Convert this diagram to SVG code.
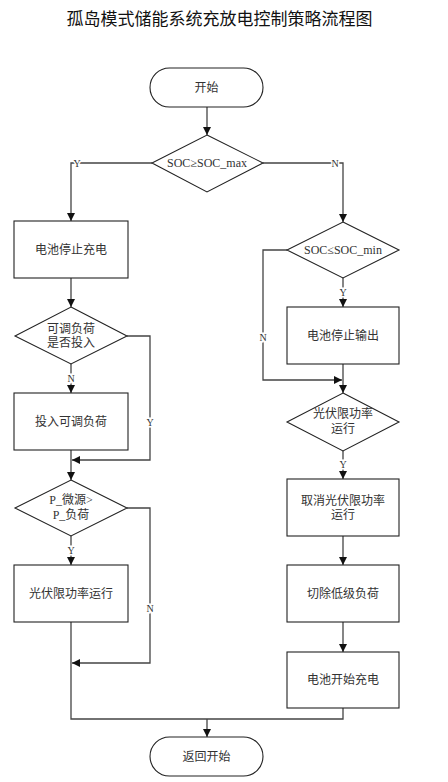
<svg xmlns="http://www.w3.org/2000/svg" width="448" height="782" viewBox="0 0 448 782">
<style>
.shape{fill:#fff;stroke:#222;stroke-width:1.1}
.line{fill:none;stroke:#444;stroke-width:1.3}
.t{font-family:"Liberation Serif","Noto Sans CJK SC",serif;font-size:12px;fill:#333;text-anchor:middle}
.lbl{font-family:"Liberation Serif",serif;font-size:10px;fill:#333;text-anchor:middle;stroke:#fff;stroke-width:3;paint-order:stroke}
.title{font-family:"Noto Sans CJK SC","Liberation Sans",sans-serif;font-size:17px;fill:#111;text-anchor:middle}
</style>
<defs>
<marker id="ah" markerWidth="10" markerHeight="10" refX="8" refY="4" orient="auto" markerUnits="userSpaceOnUse">
<path d="M0,0 L8,4 L0,8 Z" fill="#111"/>
</marker>
</defs>
<rect width="448" height="782" fill="#fff"/>
<text class="title" x="219.5" y="25">孤岛模式储能系统充放电控制策略流程图</text>

<g id="connectors">
<path class="line" d="M207 107 V135" marker-end="url(#ah)"/>
<path class="line" d="M152 163 H71 V221" marker-end="url(#ah)"/>
<path class="line" d="M263 163 H343 V222" marker-end="url(#ah)"/>
<path class="line" d="M71 278 V307" marker-end="url(#ah)"/>
<path class="line" d="M71 364 V393" marker-end="url(#ah)"/>
<path class="line" d="M127 336 H150 V460 H72" marker-end="url(#ah)"/>
<path class="line" d="M71 450 V480" marker-end="url(#ah)"/>
<path class="line" d="M71 536 V565" marker-end="url(#ah)"/>
<path class="line" d="M127 508 H150 V663 H72" marker-end="url(#ah)"/>
<path class="line" d="M71 622 V719 H343 V708"/>
<path class="line" d="M207 719 V737" marker-end="url(#ah)"/>
<path class="line" d="M343 278 V307" marker-end="url(#ah)"/>
<path class="line" d="M287 250 H263 V380 H342" marker-end="url(#ah)"/>
<path class="line" d="M343 364 V393" marker-end="url(#ah)"/>
<path class="line" d="M343 451 V479" marker-end="url(#ah)"/>
<path class="line" d="M343 536 V565" marker-end="url(#ah)"/>
<path class="line" d="M343 622 V652" marker-end="url(#ah)"/>
<text class="lbl" x="77" y="167">Y</text>
<text class="lbl" x="335" y="167">N</text>
<text class="lbl" x="263" y="341">N</text>
<text class="lbl" x="343" y="296">Y</text>
<text class="lbl" x="343" y="468">Y</text>
<text class="lbl" x="71" y="382">N</text>
<text class="lbl" x="150" y="426">Y</text>
<text class="lbl" x="71" y="554">Y</text>
<text class="lbl" x="150" y="612">N</text>
</g>

<g id="start">
<rect class="shape" x="150" y="68" width="113" height="39" rx="19.5"/>
<text class="t" x="206.5" y="92">开始</text>
</g>
<g id="d-socmax">
<polygon class="shape" points="207,135 263,163 207,192 152,163"/>
<text class="t" x="207" y="167">SOC≥SOC_max</text>
</g>
<g id="stop-charge">
<rect class="shape" x="14" y="221" width="114" height="57"/>
<text class="t" x="71" y="254">电池停止充电</text>
</g>
<g id="d-load">
<polygon class="shape" points="71,307 127,336 71,364 15,336"/>
<text class="t" x="71" y="333">可调负荷</text>
<text class="t" x="71" y="347">是否投入</text>
</g>
<g id="add-load">
<rect class="shape" x="14" y="393" width="114" height="57"/>
<text class="t" x="71" y="426">投入可调负荷</text>
</g>
<g id="d-power">
<polygon class="shape" points="71,480 127,508 71,536 15,508"/>
<text class="t" x="71" y="504">P_微源&gt;</text>
<text class="t" x="71" y="519">P_负荷</text>
</g>
<g id="pv-limit">
<rect class="shape" x="14" y="565" width="114" height="57"/>
<text class="t" x="71" y="598">光伏限功率运行</text>
</g>
<g id="d-socmin">
<polygon class="shape" points="343,222 399,250 343,278 287,250"/>
<text class="t" x="343" y="254">SOC≤SOC_min</text>
</g>
<g id="stop-output">
<rect class="shape" x="287" y="307" width="112" height="57"/>
<text class="t" x="343" y="340">电池停止输出</text>
</g>
<g id="d-pv">
<polygon class="shape" points="343,393 399,422 343,451 287,422"/>
<text class="t" x="343" y="418">光伏限功率</text>
<text class="t" x="343" y="433">运行</text>
</g>
<g id="cancel-pv">
<rect class="shape" x="287" y="479" width="112" height="57"/>
<text class="t" x="343" y="505">取消光伏限功率</text>
<text class="t" x="343" y="519">运行</text>
</g>
<g id="cut-load">
<rect class="shape" x="287" y="565" width="112" height="57"/>
<text class="t" x="343" y="598">切除低级负荷</text>
</g>
<g id="start-charge">
<rect class="shape" x="287" y="652" width="112" height="56"/>
<text class="t" x="343" y="684">电池开始充电</text>
</g>
<g id="end">
<rect class="shape" x="150" y="737" width="113" height="39" rx="19.5"/>
<text class="t" x="206.5" y="761">返回开始</text>
</g>
</svg>
